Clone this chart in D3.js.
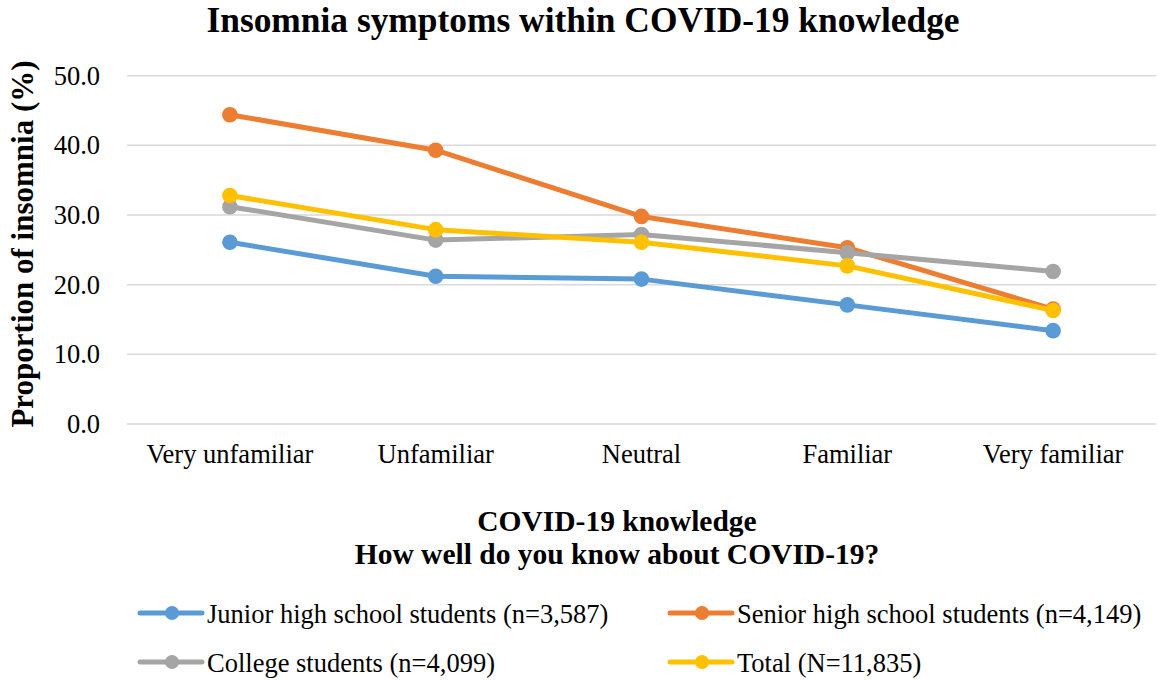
<!DOCTYPE html>
<html>
<head>
<meta charset="utf-8">
<script src="https://cdn.jsdelivr.net/npm/d3@7"></script>
<style>
  body { margin: 0; background: #fff; }
  text { font-family: "Liberation Serif", "Times New Roman", serif; fill: #000; }
</style>
</head>
<body>
<div id="chart"></div>
<script>
// Data
const categories = ["Very unfamiliar", "Unfamiliar", "Neutral", "Familiar", "Very familiar"];
const juniorValues = [26.1, 21.2, 20.8, 17.1, 13.4];
const seniorValues = [44.4, 39.3, 29.8, 25.3, 16.5];
const collegeValues = [31.2, 26.4, 27.2, 24.6, 21.9];
const totalValues = [32.8, 27.9, 26.1, 22.7, 16.3];
const seriesNames = ["Junior high school students (n=3,587)", "Senior high school students (n=4,149)",
  "College students (n=4,099)", "Total (N=11,835)"];
const yTicks = [0, 10, 20, 30, 40, 50];

const colors = ["#5B9BD5", "#ED7D31", "#A5A5A5", "#FFC000"];
const allSeries = [juniorValues, seniorValues, collegeValues, totalValues];

const width = 1157, height = 681;
const margin = { top: 75.7, right: 1, bottom: 257, left: 127 };

const svg = d3.select("#chart").append("svg")
  .attr("width", width)
  .attr("height", height);

const x = d3.scaleBand()
  .domain(categories)
  .range([margin.left, width - margin.right]);

const y = d3.scaleLinear()
  .domain([0, 50])
  .range([height - margin.bottom, margin.top]);

// gridlines
svg.append("g")
  .selectAll("line")
  .data(yTicks)
  .join("line")
  .attr("x1", margin.left)
  .attr("x2", width - margin.right)
  .attr("y1", d => y(d))
  .attr("y2", d => y(d))
  .attr("stroke", "#D9D9D9")
  .attr("stroke-width", 1.5);

// y axis labels
const yAxis = g => g
  .attr("transform", `translate(${margin.left - 24},0)`)
  .call(d3.axisLeft(y).tickValues(yTicks).tickFormat(d3.format(".1f")).tickSize(0))
  .call(g => g.select(".domain").remove())
  .call(g => g.selectAll("text")
    .attr("font-family", "Liberation Serif")
    .attr("font-size", 26.5)
    .attr("fill", "#000"));
svg.append("g").call(yAxis);

// x axis labels
const xAxis = g => g
  .attr("transform", `translate(0,${y(0)})`)
  .call(d3.axisBottom(x).tickSize(0).tickPadding(20))
  .call(g => g.select(".domain").remove())
  .call(g => g.selectAll("text")
    .attr("font-family", "Liberation Serif")
    .attr("font-size", 26.5)
    .attr("fill", "#000"));
svg.append("g").call(xAxis);

// lines
const line = d3.line()
  .x((d, i) => x(categories[i]) + x.bandwidth() / 2)
  .y(d => y(d));

allSeries.forEach((values, k) => {
  svg.append("path")
    .datum(values)
    .attr("fill", "none")
    .attr("stroke", colors[k])
    .attr("stroke-width", 5)
    .attr("stroke-linejoin", "round")
    .attr("d", line);
  svg.append("g")
    .selectAll("circle")
    .data(values)
    .join("circle")
    .attr("cx", (d, i) => x(categories[i]) + x.bandwidth() / 2)
    .attr("cy", d => y(d))
    .attr("r", 7.8)
    .attr("fill", colors[k]);
});

// title
svg.append("text")
  .attr("x", 583)
  .attr("y", 32)
  .attr("text-anchor", "middle")
  .attr("font-weight", "bold")
  .attr("font-size", 35.4)
  .text("Insomnia symptoms within COVID-19 knowledge");

// axis titles
svg.append("text")
  .attr("x", 617)
  .attr("y", 531)
  .attr("text-anchor", "middle")
  .attr("font-weight", "bold")
  .attr("font-size", 29.5)
  .text("COVID-19 knowledge");
svg.append("text")
  .attr("x", 617)
  .attr("y", 564)
  .attr("text-anchor", "middle")
  .attr("font-weight", "bold")
  .attr("font-size", 29.5)
  .text("How well do you know about COVID-19?");

svg.append("text")
  .attr("transform", `translate(33,244) rotate(-90)`)
  .attr("text-anchor", "middle")
  .attr("font-weight", "bold")
  .attr("font-size", 31)
  .text("Proportion of insomnia (%)");

// legend
const legendPos = [[140, 613], [670, 613], [140, 662], [670, 662]];
const legend = svg.append("g")
  .selectAll("g")
  .data(seriesNames)
  .join("g")
  .attr("transform", (d, i) => `translate(${legendPos[i][0]},${legendPos[i][1]})`);
legend.append("line")
  .attr("x1", 0).attr("x2", 62)
  .attr("stroke", (d, i) => colors[i])
  .attr("stroke-width", 5)
  .attr("stroke-linecap", "round");
legend.append("circle")
  .attr("cx", 32).attr("r", 7)
  .attr("fill", (d, i) => colors[i]);
legend.append("text")
  .attr("x", 67)
  .attr("y", 9.5)
  .attr("font-size", 26.5)
  .text(d => d);
</script>
</body>
</html>
